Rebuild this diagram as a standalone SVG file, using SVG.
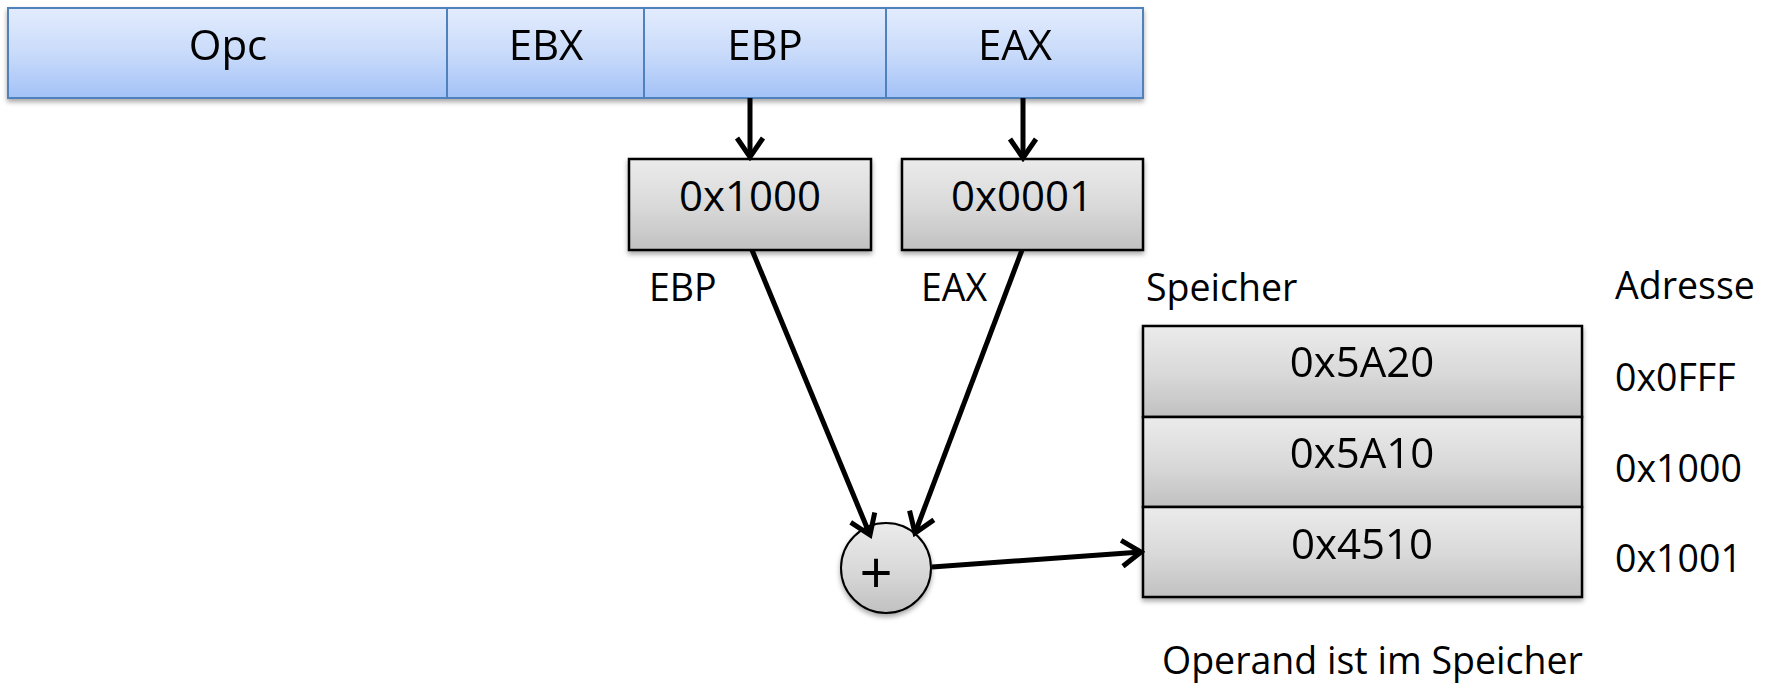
<svg xmlns="http://www.w3.org/2000/svg" width="1767" height="684" viewBox="0 0 1767 684">
<defs>
<linearGradient id="blue" x1="0" y1="0" x2="0" y2="1">
<stop offset="0" stop-color="#e3ecfd"/>
<stop offset="0.5" stop-color="#c9dbfa"/>
<stop offset="1" stop-color="#a3c2f7"/>
</linearGradient>
<linearGradient id="gray" x1="0" y1="0" x2="0" y2="1">
<stop offset="0" stop-color="#ebebeb"/>
<stop offset="0.5" stop-color="#dadada"/>
<stop offset="1" stop-color="#c1c1c1"/>
</linearGradient>
<filter id="shadow" x="-10%" y="-20%" width="120%" height="150%">
<feDropShadow dx="0" dy="3" stdDeviation="2.5" flood-color="#000" flood-opacity="0.35"/>
</filter>
<marker id="arr" viewBox="0 0 26 32" refX="22" refY="16" markerWidth="26" markerHeight="32" markerUnits="userSpaceOnUse" orient="auto">
<path d="M3,3 L22,16 L3,29" fill="none" stroke="#000" stroke-width="5"/>
</marker>
</defs>
<style>
.bar{fill:url(#blue);stroke:#4f81bd;stroke-width:2}
.box{fill:url(#gray);stroke:#000;stroke-width:2.5}
.big{font-family:"Open Sans","Liberation Sans",sans-serif;font-size:42px;fill:#000;text-anchor:middle}
.sm{font-family:"Open Sans","Liberation Sans",sans-serif;font-size:37.5px;fill:#000}
.con{stroke:#000;stroke-width:5;fill:none;marker-end:url(#arr)}
</style>
<g id="instr" filter="url(#shadow)">
<g id="opc"><rect class="bar" x="8" y="8" width="439" height="90"/><text class="big" x="228" y="60">Opc</text></g>
<g id="ebx"><rect class="bar" x="447" y="8" width="197" height="90"/><text class="big" x="546" y="60">EBX</text></g>
<g id="ebp"><rect class="bar" x="644" y="8" width="242" height="90"/><text class="big" x="765" y="60">EBP</text></g>
<g id="eax"><rect class="bar" x="886" y="8" width="257" height="90"/><text class="big" x="1015" y="60">EAX</text></g>
</g>
<g id="reg-ebp"><rect class="box" x="629" y="159" width="242" height="91" filter="url(#shadow)"/><text class="big" x="750" y="211">0x1000</text></g>
<g id="reg-eax"><rect class="box" x="902" y="159" width="241" height="91" filter="url(#shadow)"/><text class="big" x="1022" y="211">0x0001</text></g>
<g id="lbl-ebp"><text class="sm" x="649" y="301">EBP</text></g>
<g id="lbl-eax"><text class="sm" x="921" y="301">EAX</text></g>
<g id="lbl-speicher"><text class="sm" x="1146" y="301">Speicher</text></g>
<g id="lbl-adresse"><text class="sm" x="1615" y="299">Adresse</text></g>
<g id="memory" filter="url(#shadow)">
<g id="mem0"><rect class="box" x="1143" y="326" width="439" height="91"/><text class="big" x="1362" y="377">0x5A20</text></g>
<g id="mem1"><rect class="box" x="1143" y="417" width="439" height="90"/><text class="big" x="1362" y="468">0x5A10</text></g>
<g id="mem2"><rect class="box" x="1143" y="507" width="439" height="90"/><text class="big" x="1362" y="559">0x4510</text></g>
</g>
<g id="addr0"><text class="sm" x="1615" y="391">0x0FFF</text></g>
<g id="addr1"><text class="sm" x="1615" y="482">0x1000</text></g>
<g id="addr2"><text class="sm" x="1615" y="572">0x1001</text></g>
<g id="adder"><circle cx="886" cy="568" r="45" fill="url(#gray)" stroke="#000" stroke-width="2" filter="url(#shadow)"/><text class="big" x="876" y="594" style="font-size:58px">+</text></g>
<g id="caption"><text class="sm" x="1162" y="674">Operand ist im Speicher</text></g>
<g id="connectors">
<line class="con" x1="750" y1="98" x2="750" y2="157"/>
<line class="con" x1="1023" y1="98" x2="1023" y2="158"/>
<line class="con" x1="752" y1="250" x2="870" y2="535"/>
<line class="con" x1="1022" y1="250" x2="915" y2="533"/>
<line class="con" x1="932" y1="567" x2="1141" y2="552"/>
</g>
</svg>
